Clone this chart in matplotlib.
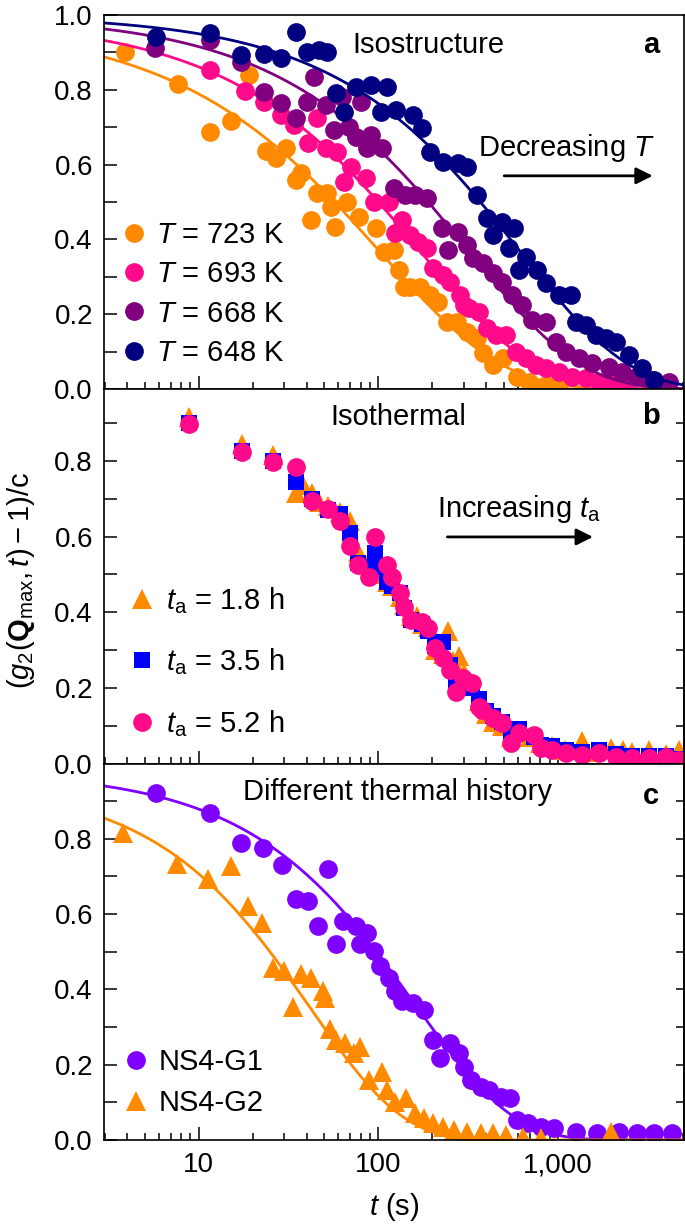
import numpy as np
import matplotlib
matplotlib.use('Agg')
import matplotlib.pyplot as plt
from matplotlib.ticker import FixedLocator, FuncFormatter, LogLocator, NullFormatter

# ---- panel a: isostructure, four temperatures ----
t_723 = [3.9, 7.7, 11.6, 15.2, 19.1, 23.8, 27.0, 30.7, 34.9, 37.2, 42.4, 45.6, 51.9, 54.6, 57.5, 67, 78, 97,
         107, 122, 130, 139, 150, 171, 194, 215, 241, 274, 311, 353, 381, 433, 492, 589, 695, 863, 1019]
g_723 = [0.901, 0.816, 0.687, 0.717, 0.84, 0.636, 0.618, 0.644, 0.559, 0.578, 0.452, 0.524, 0.524, 0.487, 0.433,
         0.50, 0.46, 0.43, 0.366, 0.372, 0.318, 0.273, 0.273, 0.273, 0.251, 0.233, 0.179, 0.179, 0.152, 0.136,
         0.096, 0.064, 0.083, 0.032, 0.019, 0.011, 0.005]

t_693 = [11.6, 18.0, 23.2, 28.9, 34.1, 40.6, 45.7, 51.2, 58.9, 64.4, 70.4, 85.3, 94.6, 115, 124, 135, 150, 166,
         186, 201, 228, 250, 284, 300, 322, 366, 401, 455, 517, 588, 668, 759, 863, 1019, 1203, 1439, 1700, 2005,
         2340]
g_693 = [0.853, 0.797, 0.767, 0.733, 0.706, 0.658, 0.725, 0.644, 0.634, 0.553, 0.594, 0.564, 0.50, 0.50, 0.417,
         0.452, 0.412, 0.393, 0.377, 0.324, 0.305, 0.286, 0.251, 0.225, 0.217, 0.206, 0.163, 0.144, 0.144, 0.099,
         0.083, 0.064, 0.056, 0.045, 0.032, 0.029, 0.019, 0.016, 0.008]

t_668 = [5.7, 11.6, 17.3, 23.2, 28.9, 34.9, 40.2, 44, 51.2, 56.7, 62.8, 68.7, 75.1, 80, 86.4, 91, 105, 122, 140,
         160, 186, 225, 243, 277, 310, 335, 381, 433, 491, 558, 634, 721, 863, 980, 1114, 1315, 1553, 1929, 2277,
         2723, 3340, 4148]
g_668 = [0.912, 0.933, 0.874, 0.794, 0.765, 0.725, 0.767, 0.834, 0.759, 0.693, 0.781, 0.70, 0.674, 0.767, 0.644,
         0.679, 0.644, 0.537, 0.52, 0.52, 0.511, 0.43, 0.372, 0.42, 0.385, 0.35, 0.337, 0.31, 0.286, 0.251, 0.225,
         0.184, 0.179, 0.126, 0.099, 0.083, 0.07, 0.059, 0.045, 0.032, 0.024, 0.019]

t_648 = [5.8, 11.5, 17.3, 23.2, 28.9, 34.9, 40.2, 46.8, 51.9, 58.2, 64.4, 75.1, 91, 103, 112, 125, 156, 175, 193,
         229, 277, 310, 353, 401, 433, 491, 537, 572, 611, 668, 769, 863, 1019, 1188, 1266, 1439, 1636, 1858,
         2113, 2496, 2946, 3436]
g_648 = [0.941, 0.952, 0.893, 0.896, 0.885, 0.955, 0.901, 0.906, 0.901, 0.791, 0.741, 0.807, 0.813, 0.741, 0.807,
         0.746, 0.733, 0.698, 0.634, 0.607, 0.604, 0.594, 0.519, 0.457, 0.412, 0.447, 0.377, 0.43, 0.318, 0.353,
         0.318, 0.283, 0.251, 0.251, 0.179, 0.171, 0.144, 0.136, 0.126, 0.091, 0.056, 0.024]

# KWW fit parameters (amplitude, tau in s, beta)
fit_723 = (0.98, 105, 0.65)
fit_693 = (0.99, 174, 0.69)
fit_668 = (1.0, 320, 0.70)
fit_648 = (1.0, 616, 0.72)

# ---- panel b: isothermal, three ageing times ----
t_18h = [8.8, 17.5, 26, 34.9, 38, 42.8, 47, 52.5, 61, 70, 77, 88, 96, 105, 112, 120, 132, 139, 152, 165, 175,
         188, 206, 228, 243, 262, 280, 300, 331, 366, 400, 433, 491, 551, 611, 700, 800, 930, 1100, 1370, 1600,
         1980, 2300, 2600, 3200, 4000, 4700]
g_18h = [0.915, 0.845, 0.815, 0.715, 0.735, 0.715, 0.69, 0.68, 0.665, 0.64, 0.56, 0.53, 0.55, 0.50, 0.48, 0.47,
         0.44, 0.42, 0.39, 0.39, 0.37, 0.36, 0.30, 0.29, 0.35, 0.27, 0.285, 0.24, 0.21, 0.165, 0.13, 0.11, 0.10,
         0.07, 0.085, 0.07, 0.055, 0.045, 0.035, 0.06, 0.03, 0.04, 0.035, 0.03, 0.035, 0.025, 0.035]

t_35h = [8.8, 17.5, 26, 34.9, 42.8, 52.5, 61, 70, 77, 89, 96, 105, 112, 120, 132, 139, 152, 175, 188, 206, 228,
         250, 270, 295, 331, 366, 400, 433, 491, 551, 611, 740, 809, 931, 1114, 1368, 1700, 2113, 2592, 3221,
         3998, 4722]
g_35h = [0.90, 0.825, 0.80, 0.745, 0.70, 0.67, 0.66, 0.61, 0.53, 0.52, 0.557, 0.52, 0.48, 0.47, 0.45, 0.41, 0.38,
         0.37, 0.35, 0.31, 0.32, 0.26, 0.21, 0.215, 0.20, 0.17, 0.14, 0.125, 0.11, 0.075, 0.09, 0.07, 0.05, 0.045,
         0.035, 0.03, 0.035, 0.025, 0.02, 0.02, 0.02, 0.012]

t_52h = [8.8, 17.5, 26, 34.9, 42.8, 52.5, 61.2, 69.6, 77, 88.7, 95.7, 112, 120, 132, 139, 152, 175, 188, 206, 228,
         250, 270, 295, 331, 366, 377, 433, 491, 551, 611, 740, 809, 931, 1114, 1368, 1700, 2113, 2592, 3221,
         3998, 4722]
g_52h = [0.897, 0.823, 0.796, 0.783, 0.693, 0.672, 0.64, 0.574, 0.526, 0.494, 0.60, 0.526, 0.494, 0.452, 0.415,
         0.38, 0.375, 0.359, 0.306, 0.28, 0.248, 0.189, 0.226, 0.213, 0.15, 0.142, 0.121, 0.107, 0.054, 0.081,
         0.075, 0.041, 0.036, 0.028, 0.023, 0.028, 0.017, 0.015, 0.015, 0.017, 0.009]

# ---- panel c: different thermal history ----
t_g1 = [5.75, 11.6, 17.1, 22.9, 29.2, 34.9, 40.6, 46.2, 52.5, 58.2, 63.7, 75.1, 79.1, 86.4, 94.6, 102, 115, 124,
        135, 156, 179, 201, 222, 250, 280, 302, 330, 371, 411, 485, 544, 596, 685, 809, 955, 1266, 1656, 2193,
        2761, 3428, 4314]
g_g1 = [0.921, 0.868, 0.789, 0.776, 0.73, 0.64, 0.635, 0.569, 0.72, 0.521, 0.582, 0.569, 0.521, 0.55, 0.503,
        0.463, 0.429, 0.397, 0.37, 0.363, 0.344, 0.265, 0.217, 0.257, 0.23, 0.193, 0.159, 0.14, 0.132, 0.114,
        0.111, 0.053, 0.045, 0.034, 0.032, 0.021, 0.019, 0.021, 0.019, 0.019, 0.019]

t_g2 = [3.78, 7.6, 11.3, 15.2, 18.9, 22.6, 26.0, 29.9, 33.6, 37.2, 42.3, 49.3, 50.6, 53.9, 58.2, 65.3, 73.3, 79.1,
        88.7, 105, 112, 124, 142, 160, 179, 201, 228, 263, 310, 371, 438, 517, 643, 809, 1977]
g_g2 = [0.815, 0.733, 0.693, 0.728, 0.622, 0.577, 0.458, 0.45, 0.352, 0.442, 0.431, 0.397, 0.378, 0.296, 0.265,
        0.257, 0.23, 0.246, 0.159, 0.18, 0.132, 0.101, 0.111, 0.071, 0.058, 0.045, 0.034, 0.026, 0.021, 0.019,
        0.019, 0.013, 0.008, 0.005, 0.02]

fit_g1 = (0.98, 160, 0.80)
fit_g2 = (0.95, 42, 0.85)

ORANGE = '#FF8A00'
PINK = '#FF0A8A'
PURPLE = '#800080'
NAVY = '#000080'
BLUE = '#0000FF'
VIOLET = '#8000FF'

FS = 20      # tick labels
FT = 21      # annotations and legends
plt.rcParams['font.family'] = ['Liberation Sans', 'DejaVu Sans']
plt.rcParams['mathtext.fontset'] = 'custom'
plt.rcParams['mathtext.rm'] = 'Liberation Sans'
plt.rcParams['mathtext.it'] = 'Liberation Sans:italic'
plt.rcParams['mathtext.bf'] = 'Liberation Sans:bold'
plt.rcParams['font.size'] = FS

XMIN, XMAX = 2.97, 5040
MS_O, MS_T, MS_S = 13.5, 14.5, 12


def kww(t, amp, tau, beta):
    """stretched exponential used for the fit lines"""
    return amp * np.exp(-(t / tau) ** beta)


def style_axis(ax, top, right_ticks, xlabels):
    ax.set_xscale('log')
    ax.set_xlim(XMIN, XMAX)
    ax.set_ylim(0, top)
    ax.xaxis.set_major_locator(LogLocator(base=10))
    ax.xaxis.set_minor_locator(LogLocator(base=10, subs=np.arange(2, 10)))
    ax.xaxis.set_minor_formatter(NullFormatter())
    ax.xaxis.set_major_formatter(FuncFormatter(lambda v, p: '{:,.0f}'.format(v)))
    ax.tick_params(axis='x', which='major', direction='in', length=9.5, width=1.1, pad=9,
                   labelbottom=xlabels, labelsize=FS)
    ax.tick_params(axis='x', which='minor', direction='in', length=5, width=1.1)
    ax.tick_params(axis='y', which='both', direction='in', length=9.5, width=1.1, pad=8, labelsize=FS)
    ax.yaxis.set_minor_locator(FixedLocator([0.1, 0.3, 0.5, 0.7, 0.9]))
    ax.yaxis.set_major_formatter(FuncFormatter(lambda v, p: '{:.1f}'.format(v)))
    for s in ax.spines.values():
        s.set_linewidth(1.2)
    if right_ticks:
        sec = ax.secondary_yaxis('right')
        sec.yaxis.set_major_locator(FixedLocator(np.arange(0, 1.0, 0.1)))
        sec.tick_params(direction='in', length=6, width=1.1, labelright=False)
        sec.spines['right'].set_linewidth(1.2)


def add_arrow(ax, x0, x1, y):
    ax.annotate('', xy=(x1, y), xytext=(x0, y), xycoords='axes fraction',
                arrowprops=dict(arrowstyle='-|>', color='k', lw=2, mutation_scale=25, shrinkA=0, shrinkB=0))


fig = plt.figure(figsize=(6.85, 12.29), dpi=100)
L, W = 104 / 685, 580 / 685
ax_a = fig.add_axes([L, 1 - 389 / 1229, W, 374 / 1229])
ax_b = fig.add_axes([L, 1 - 763.5 / 1229, W, 374.5 / 1229])
ax_c = fig.add_axes([L, 1 - 1140 / 1229, W, 376.5 / 1229])

t_fit = np.logspace(np.log10(XMIN), np.log10(XMAX), 400)

# panel a
for t, g, fit, col, lab in [(t_723, g_723, fit_723, ORANGE, '723'),
                            (t_693, g_693, fit_693, PINK, '693'),
                            (t_668, g_668, fit_668, PURPLE, '668'),
                            (t_648, g_648, fit_648, NAVY, '648')]:
    ax_a.plot(t, g, 'o', ms=MS_O, mew=0, color=col, label=r'$T$ = ' + lab + ' K')
    ax_a.plot(t_fit, kww(t_fit, *fit), '-', lw=2, color=col)

style_axis(ax_a, 1.0, False, False)
ax_a.yaxis.set_major_locator(FixedLocator([0, 0.2, 0.4, 0.6, 0.8, 1.0]))
ax_a.text(0.559, 0.92, 'Isostructure', transform=ax_a.transAxes, ha='center', va='center', fontsize=FT)
ax_a.text(0.943, 0.92, 'a', transform=ax_a.transAxes, ha='center', va='center', fontsize=FT,
          fontweight='bold')
ax_a.text(0.797, 0.645, r'Decreasing $T$', transform=ax_a.transAxes, ha='center', va='center', fontsize=FT)
add_arrow(ax_a, 0.69, 0.946, 0.57)
ax_a.legend(loc='center left', bbox_to_anchor=(0.0265, 0.254), frameon=False, borderpad=0, borderaxespad=0,
            handlelength=1.0, handletextpad=0.25, labelspacing=0.39, fontsize=FT)

# panel b
ax_b.plot(t_18h, g_18h, '^', ms=MS_T, mew=0, color=ORANGE, label=r'$t_{\rm a}$ = 1.8 h')
ax_b.plot(t_35h, g_35h, 's', ms=MS_S, mew=0, color=BLUE, label=r'$t_{\rm a}$ = 3.5 h')
ax_b.plot(t_52h, g_52h, 'o', ms=MS_O, mew=0, color=PINK, label=r'$t_{\rm a}$ = 5.2 h')
style_axis(ax_b, 0.99, True, False)
ax_b.yaxis.set_major_locator(FixedLocator([0, 0.2, 0.4, 0.6, 0.8]))
ax_b.text(0.508, 0.925, 'Isothermal', transform=ax_b.transAxes, ha='center', va='center', fontsize=FT)
ax_b.text(0.943, 0.928, 'b', transform=ax_b.transAxes, ha='center', va='center', fontsize=FT,
          fontweight='bold')
ax_b.text(0.716, 0.68, r'Increasing $t_{\rm a}$', transform=ax_b.transAxes, ha='center', va='center',
          fontsize=FT)
add_arrow(ax_b, 0.592, 0.843, 0.605)
ax_b.legend(loc='center left', bbox_to_anchor=(0.040, 0.271), frameon=False, borderpad=0, borderaxespad=0,
            handlelength=1.0, handletextpad=0.32, labelspacing=1.04, fontsize=FT)

# panel c
ax_c.plot(t_g1, g_g1, 'o', ms=MS_O, mew=0, color=VIOLET, label='NS4-G1')
ax_c.plot(t_fit, kww(t_fit, *fit_g1), '-', lw=2, color=VIOLET)
ax_c.plot(t_g2, g_g2, '^', ms=MS_T, mew=0, color=ORANGE, label='NS4-G2')
ax_c.plot(t_fit, kww(t_fit, *fit_g2), '-', lw=2, color=ORANGE)
style_axis(ax_c, 1.0, True, True)
ax_c.yaxis.set_major_locator(FixedLocator([0, 0.2, 0.4, 0.6, 0.8]))
ax_c.text(0.506, 0.923, 'Different thermal history', transform=ax_c.transAxes, ha='center', va='center',
          fontsize=FT)
ax_c.text(0.943, 0.915, 'c', transform=ax_c.transAxes, ha='center', va='center', fontsize=FT,
          fontweight='bold')
ax_c.legend(loc='center left', bbox_to_anchor=(0.030, 0.153), frameon=False, borderpad=0, borderaxespad=0,
            handlelength=1.0, handletextpad=0.29, labelspacing=0.45, fontsize=FT)
ax_c.set_xlabel(r'$t$ (s)', fontsize=FT, labelpad=9)

fig.text(0.03, 1 - 580 / 1229, r'$(g_2(\mathbf{Q}_{\rm max},t)-1)/{\rm c}$', rotation=90, ha='center',
         va='center', fontsize=FT)

fig.savefig('out.png', dpi=100)
